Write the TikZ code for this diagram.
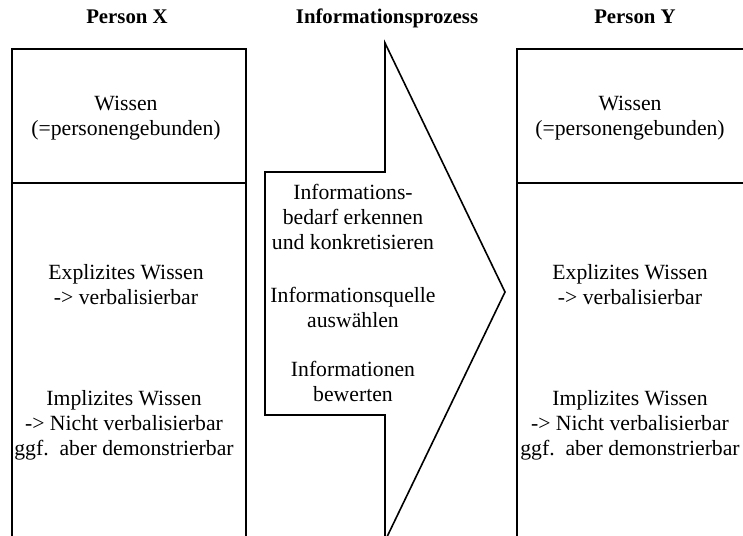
\documentclass[tikz,border=0pt]{standalone}
\usepackage{fontspec}
\setmainfont{Liberation Serif}
\begin{document}
\begin{tikzpicture}[x=1pt,y=-1pt,line width=1.6pt,line join=miter,
  title/.style={font=\fontsize{20.8}{24}\selectfont\bfseries,anchor=base,inner sep=0pt},
  body/.style={font=\fontsize{21.7}{25}\selectfont,align=center,inner sep=0pt}]
\useasboundingbox (0,0) rectangle (743,535);
\clip (0,0) rectangle (743,535);

% column headings
\node[title] (hx) at (127,24) {Person X};
\node[title] (hp) at (387,24) {Informationsprozess};
\node[title] (hy) at (635,24) {Person Y};

% person X
\draw (12,49) rectangle (246,570);
\draw (12,183) -- (246,183);
\node[body] (xw) at (126,118) {Wissen\\(=personengebunden)};
\node[body] (xe) at (126,285) {Explizites Wissen\\-> verbalisierbar};
\node[body] (xi) at (124,425) {Implizites Wissen\\-> Nicht verbalisierbar\\ggf.\ \ aber demonstrierbar};

% information process arrow
\draw (265,172) -- (385,172) -- (385,43) -- (505,292) -- (385,541)
      -- (385,415) -- (265,415) -- cycle;
\node[body] (p1) at (353,217) {Informations-\\bedarf erkennen\\und konkretisieren};
\node[body] (p2) at (353,307) {Informationsquelle\\auswählen};
\node[body] (p3) at (353,381) {Informationen\\bewerten};

% person Y
\draw (517,49) rectangle (751,570);
\draw (517,183) -- (751,183);
\node[body] (yw) at (630,118) {Wissen\\(=personengebunden)};
\node[body] (ye) at (630,285) {Explizites Wissen\\-> verbalisierbar};
\node[body] (yi) at (630,425) {Implizites Wissen\\-> Nicht verbalisierbar\\ggf.\ \ aber demonstrierbar};
\end{tikzpicture}
\end{document}
